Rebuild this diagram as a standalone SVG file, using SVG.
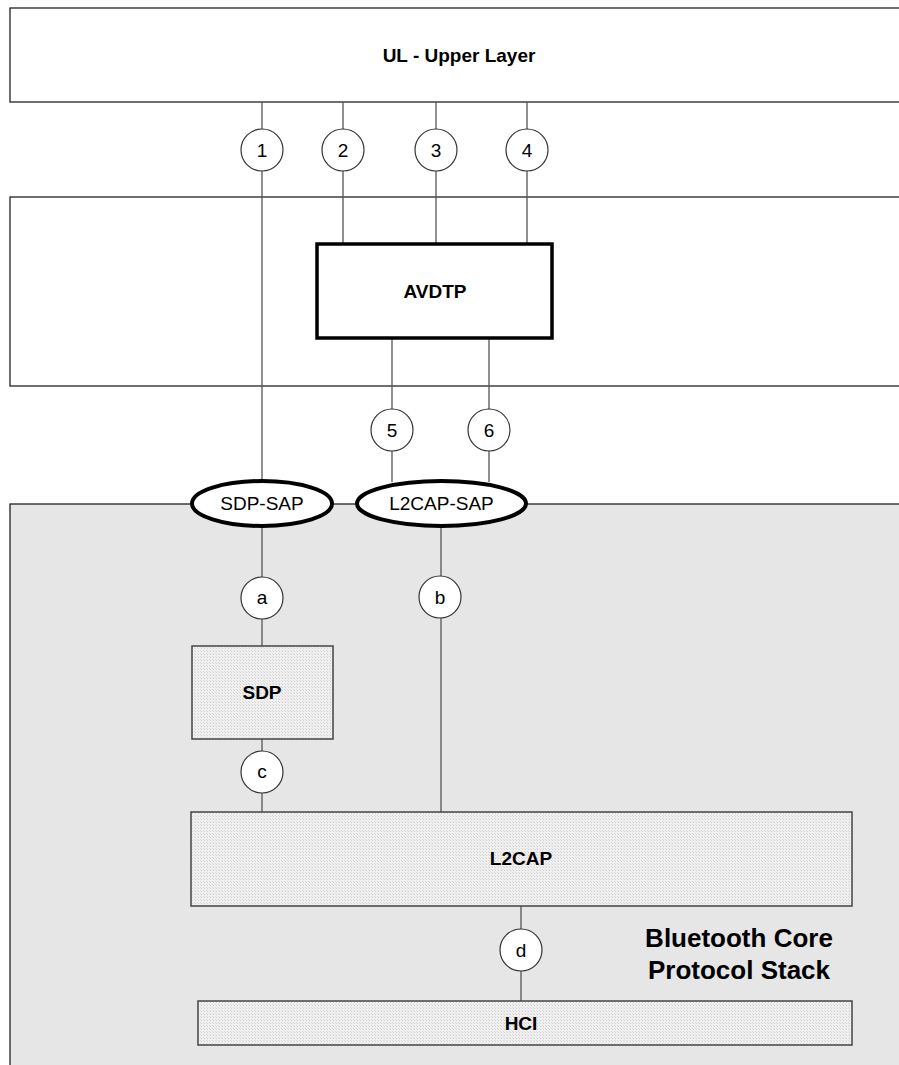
<svg xmlns="http://www.w3.org/2000/svg" width="899" height="1065" viewBox="0 0 899 1065">
<style>
.frame{fill:#ffffff;stroke:#222;stroke-width:1.3}
.core{fill:#e6e6e6;stroke:#222;stroke-width:1.3}
.blk{fill:url(#stip);stroke:#444;stroke-width:1.5}
.conn line{stroke:#555;stroke-width:1.3}
.pt{fill:#fff;stroke:#333;stroke-width:1.2}
.sap{fill:#fff;stroke:#000;stroke-width:4}
.lb{font-family:"Liberation Sans",Arial,sans-serif;font-weight:bold;font-size:19px;text-anchor:middle;fill:#000}
.n{font-family:"Liberation Sans",Arial,sans-serif;font-size:19px;text-anchor:middle;fill:#000}
.big{font-family:"Liberation Sans",Arial,sans-serif;font-weight:bold;font-size:26px;text-anchor:middle;fill:#000}
</style>
<defs>
<pattern id="stip" width="3" height="3" patternUnits="userSpaceOnUse">
<rect width="3" height="3" fill="#f0f0f0"/>
<rect width="1" height="1" fill="#cfcfcf"/>
<rect x="2" y="2" width="1" height="1" fill="#dadada"/>
</pattern>
</defs>
<g id="upper-layer">
<rect class="frame" x="10" y="8" width="900" height="94"/>
<text class="lb" x="459" y="62">UL - Upper Layer</text>
</g>
<g id="avdtp-layer">
<rect class="frame" x="10" y="197" width="900" height="189"/>
</g>
<g id="core-stack">
<rect class="core" x="10" y="504" width="900" height="570"/>
<text class="big" x="739" y="947">Bluetooth Core</text>
<text class="big" x="739" y="979">Protocol Stack</text>
</g>
<g class="conn" id="connectors">
<line x1="262" y1="102" x2="262" y2="480"/>
<line x1="343" y1="102" x2="343" y2="244"/>
<line x1="436" y1="102" x2="436" y2="244"/>
<line x1="527" y1="102" x2="527" y2="244"/>
<line x1="392" y1="338" x2="392" y2="482"/>
<line x1="489" y1="338" x2="489" y2="482"/>
<line x1="262" y1="527" x2="262" y2="646"/>
<line x1="262" y1="739" x2="262" y2="812"/>
<line x1="441" y1="527" x2="441" y2="812"/>
<line x1="521" y1="906" x2="521" y2="1001"/>
</g>
<g id="avdtp">
<rect x="317" y="244" width="235" height="94" fill="#fff" stroke="#000" stroke-width="3.5"/>
<text class="lb" x="435" y="298">AVDTP</text>
</g>
<g id="sdp">
<rect class="blk" x="192" y="646" width="141" height="93"/>
<text class="lb" x="262" y="699">SDP</text>
</g>
<g id="l2cap">
<rect class="blk" x="191" y="812" width="661" height="94"/>
<text class="lb" x="521" y="865">L2CAP</text>
</g>
<g id="hci">
<rect class="blk" x="198" y="1001" width="654" height="44"/>
<text class="lb" x="521" y="1030">HCI</text>
</g>
<g id="sdp-sap">
<ellipse class="sap" cx="262" cy="503.5" rx="70" ry="22.5"/>
<text class="n" x="262" y="510">SDP-SAP</text>
</g>
<g id="l2cap-sap">
<ellipse class="sap" cx="441.5" cy="503.5" rx="84.5" ry="22.5"/>
<text class="n" x="441.5" y="510">L2CAP-SAP</text>
</g>
<g id="p1"><circle class="pt" cx="262" cy="150" r="21"/><text class="n" x="262" y="157">1</text></g>
<g id="p2"><circle class="pt" cx="343" cy="150" r="21"/><text class="n" x="343" y="157">2</text></g>
<g id="p3"><circle class="pt" cx="436" cy="150" r="21"/><text class="n" x="436" y="157">3</text></g>
<g id="p4"><circle class="pt" cx="527" cy="150" r="21"/><text class="n" x="527" y="157">4</text></g>
<g id="p5"><circle class="pt" cx="392" cy="430" r="21"/><text class="n" x="392" y="437">5</text></g>
<g id="p6"><circle class="pt" cx="489" cy="430" r="21"/><text class="n" x="489" y="437">6</text></g>
<g id="pa"><circle class="pt" cx="262" cy="598" r="21"/><text class="n" x="262" y="604">a</text></g>
<g id="pb"><circle class="pt" cx="440" cy="597" r="21"/><text class="n" x="440" y="604">b</text></g>
<g id="pc"><circle class="pt" cx="262" cy="772" r="21"/><text class="n" x="262" y="778">c</text></g>
<g id="pd"><circle class="pt" cx="521" cy="950" r="21"/><text class="n" x="521" y="957">d</text></g>
</svg>
